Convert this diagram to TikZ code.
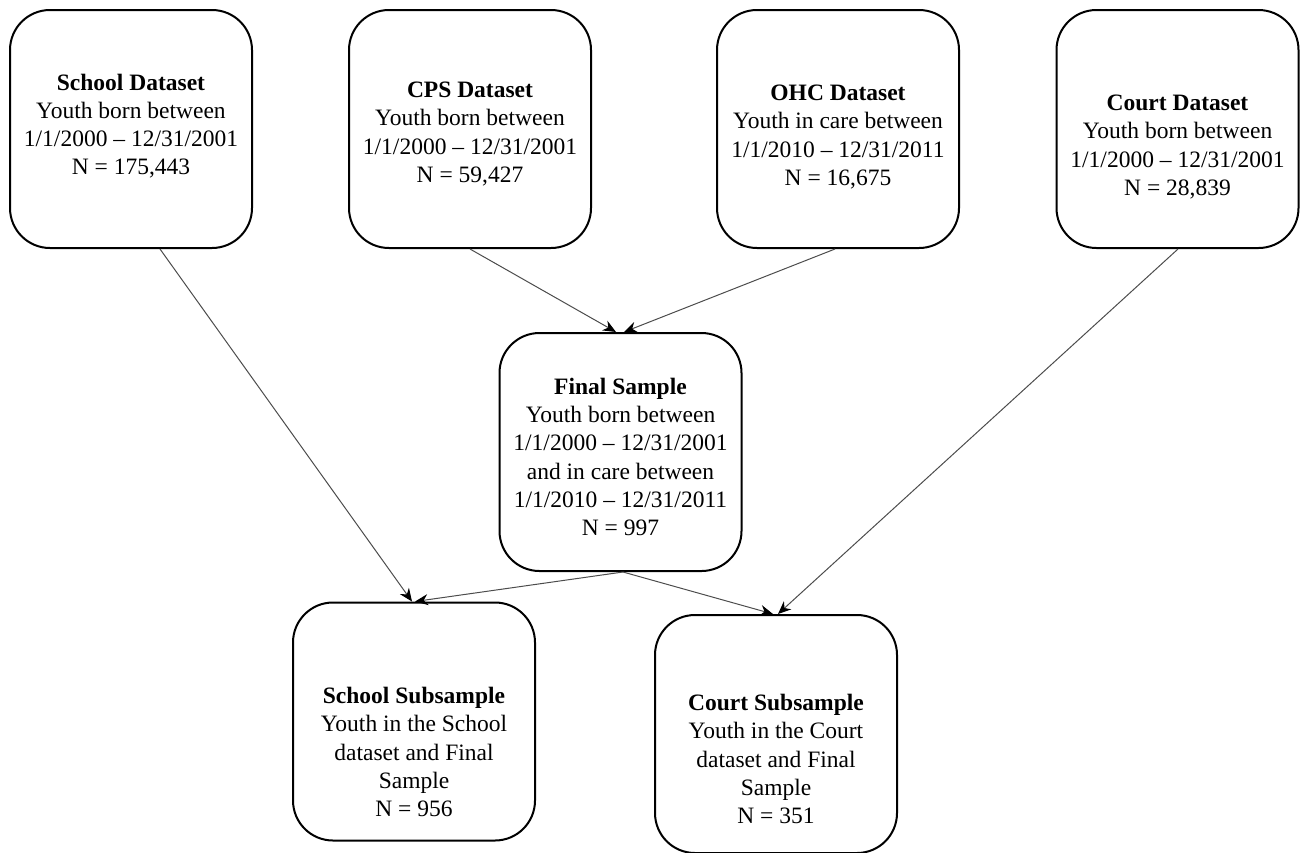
\documentclass[tikz,border=0pt]{standalone}
\usepackage{fontspec}
\setmainfont{Liberation Serif}
\usetikzlibrary{calc,arrows.meta}
\begin{document}
\begin{tikzpicture}[x=0.5pt,y=-0.5pt,
  box/.style={draw=black,line width=1pt,rounded corners=20pt,minimum width=121pt,minimum height=119pt,inner sep=0pt},
  txt/.style={align=center,font=\fontsize{11.75}{14.1}\selectfont,inner sep=0pt},
  conn/.style={draw=black!70,line width=0.5pt,-{Stealth[length=6.5pt,width=5.5pt,color=black]}}]
\useasboundingbox (0,0) rectangle (1305,852);
% boxes
\node[box] (school) at (131,129) {};
\node[box] (cps) at (470,129) {};
\node[box] (ohc) at (838,129) {};
\node[box] (court) at (1177.5,129) {};
\node[box] (final) at (620.5,452) {};
\node[box] (schoolsub) at (414,721.5) {};
\node[box] (courtsub) at (776,734) {};
% texts
\node[txt] (tschool) at (131,126) {\textbf{School Dataset}\\Youth born between\\1/1/2000 -- 12/31/2001\\N = 175,443};
\node[txt] (tcps) at (470,134) {\textbf{CPS Dataset}\\Youth born between\\1/1/2000 -- 12/31/2001\\N = 59,427};
\node[txt] (tohc) at (838,137) {\textbf{OHC Dataset}\\Youth in care between\\1/1/2010 -- 12/31/2011\\N = 16,675};
\node[txt] (tcourt) at (1177.5,147) {\textbf{Court Dataset}\\Youth born between\\1/1/2000 -- 12/31/2001\\N = 28,839};
\node[txt] (tfinal) at (620.5,457) {\textbf{Final Sample}\\Youth born between\\1/1/2000 -- 12/31/2001\\and in care between\\1/1/2010 -- 12/31/2011\\N = 997};
\node[txt] (tschoolsub) at (414,752) {\textbf{School Subsample}\\Youth in the School\\dataset and Final\\Sample\\N = 956};
\node[txt] (tcourtsub) at (776,759) {\textbf{Court Subsample}\\Youth in the Court\\dataset and Final\\Sample\\N = 351};
% connectors
\draw[conn] ($(school.south)+(29,0)$) -- ($(schoolsub.north)+(-2,0)$);
\draw[conn] ($(cps.south)+(0,0)$) -- ($(final.north)+(-4.5,0)$);
\draw[conn] ($(ohc.south)+(-3,0)$) -- ($(final.north)+(3.5,0)$);
\draw[conn] ($(court.south)+(0.5,0)$) -- ($(courtsub.north)+(2,0)$);
\draw[conn] ($(final.south)+(2.5,0)$) -- ($(schoolsub.north)+(1,0)$);
\draw[conn] ($(final.south)+(2.5,0)$) -- ($(courtsub.north)+(-3,0)$);
\end{tikzpicture}
\end{document}
